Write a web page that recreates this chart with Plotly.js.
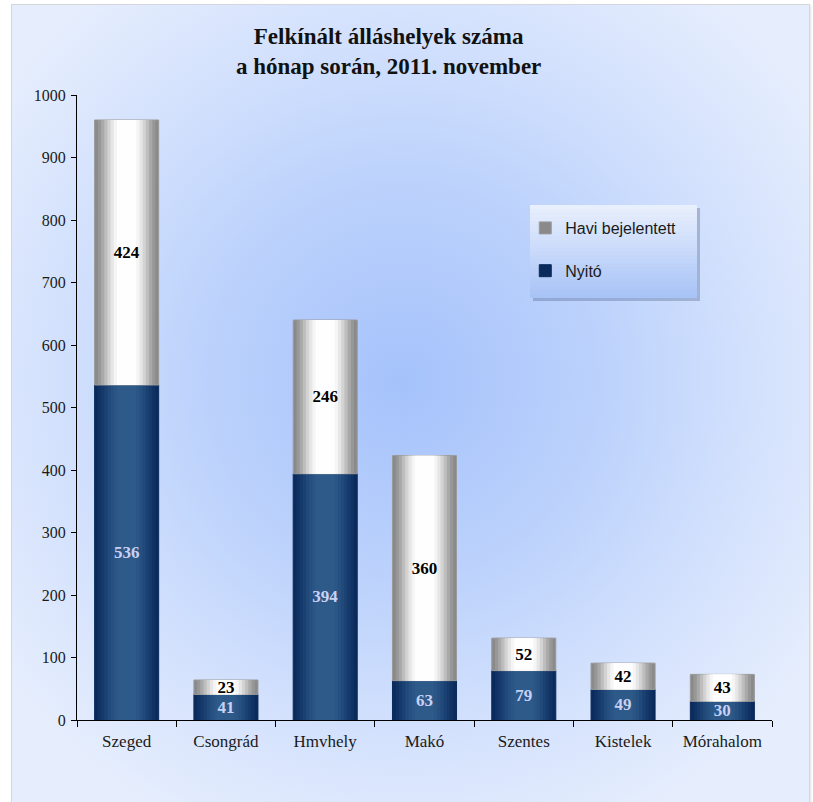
<!DOCTYPE html>
<html>
<head>
<meta charset="utf-8">
<script src="https://cdn.plot.ly/plotly-3.0.1.min.js"></script>
<style>
  html, body { margin: 0; padding: 0; background: #ffffff; }
  #wrap { position: relative; width: 813px; height: 802px; overflow: hidden; }
  #bg { position: absolute; left: 11px; top: 4px; width: 797px; height: 800px;
        border: 1px solid #d4d8de;
        box-shadow: 1px 1px 2px rgba(0,0,0,0.12);
        background: radial-gradient(ellipse 62% 62% at 49% 47%, #a5c2fb 0%, #bcd2fc 40%, #d6e3fd 75%, #e6eefd 100%); }
  #chart { position: absolute; left: 0; top: 0; width: 813px; height: 802px; }
</style>
</head>
<body>
<div id="wrap">
  <div id="bg"></div>
  <div id="chart"></div>
</div>
<script>
// ---- data ----
const categories = ['Szeged', 'Csongrád', 'Hmvhely', 'Makó', 'Szentes', 'Kistelek', 'Mórahalom'];
const nyito = [536, 41, 394, 63, 79, 49, 30];
const havi = [424, 23, 246, 360, 52, 42, 43];
const seriesNames = ['Nyitó', 'Havi bejelentett'];
const yTicks = [0, 100, 200, 300, 400, 500, 600, 700, 800, 900, 1000];

// ---- styling ----
const BAR_W = 0.645;
const navyStops = [[1.00, '#0a2b5c'], [0.90, '#0f3263'], [0.80, '#15396b'], [0.70, '#1b4173'], [0.60, '#21497a'], [0.50, '#265080'], [0.40, '#2a5585'], [0.30, '#2e5a89']];
const grayStops = [[1.00, '#8a8a8a'], [0.90, '#979797'], [0.80, '#a9a9a9'], [0.70, '#bebebe'], [0.60, '#d3d3d3'], [0.50, '#e6e6e6'], [0.40, '#f5f5f5'], [0.30, '#fefefe']];

const zeros = categories.map(function () { return 0; });
const havibase = nyito.slice();
const traces = [];

function addLayers(values, base, stops, name, rank, lineColor) {
  stops.forEach(function (s, i) {
    traces.push({
      type: 'bar',
      x: categories,
      y: values,
      base: base,
      width: BAR_W * s[0],
      name: name,
      legendgroup: name,
      legendrank: rank,
      showlegend: i === 0,
      marker: {
        color: s[1],
        line: { width: i === 0 ? 1 : 0, color: lineColor }
      },
      hoverinfo: 'skip'
    });
  });
}

addLayers(nyito, zeros, navyStops, seriesNames[0], 2, '#0a2b5c');
addLayers(havi, havibase, grayStops, seriesNames[1], 1, '#9a9a9a');

// text label traces (transparent)
function addLabels(values, base, color) {
  traces.push({
    type: 'bar',
    x: categories,
    y: values,
    base: base,
    width: BAR_W,
    showlegend: false,
    marker: { color: 'rgba(0,0,0,0)', line: { width: 0 } },
    text: values.map(String),
    textposition: 'inside',
    insidetextanchor: 'middle',
    textangle: 0,
    constraintext: 'none',
    textfont: { family: 'Liberation Serif, Times New Roman, serif', size: 17, color: color, weight: 'bold' },
    hoverinfo: 'skip'
  });
}
addLabels(nyito, zeros, '#c8d1f4');
addLabels(havi, havibase, '#000000');

// legend box (shadow + vertical gradient strips)
const shapes = [{
  type: 'rect', xref: 'paper', yref: 'paper', layer: 'above',
  x0: 0.6561, x1: 0.8964, y0: 0.6704, y1: 0.8192,
  fillcolor: 'rgba(50,70,110,0.28)', line: { width: 0 }
}];
const boxTop = 0.824, boxBot = 0.6752, boxL = 0.6518, boxR = 0.8921;
const topC = [232, 239, 253], botC = [168, 195, 246];
const nStrips = 24;
for (let i = 0; i < nStrips; i++) {
  const t = i / (nStrips - 1);
  const c = topC.map(function (v, k) { return Math.round(v + (botC[k] - v) * t); });
  const h = (boxTop - boxBot) / nStrips;
  shapes.push({
    type: 'rect', xref: 'paper', yref: 'paper', layer: 'above',
    x0: boxL, x1: boxR,
    y0: Math.max(boxBot, boxTop - (i + 1) * h - 0.002), y1: boxTop - i * h,
    fillcolor: 'rgb(' + c.join(',') + ')', line: { width: 0 }
  });
}

const layout = {
  width: 813,
  height: 802,
  paper_bgcolor: 'rgba(0,0,0,0)',
  plot_bgcolor: 'rgba(0,0,0,0)',
  barmode: 'overlay',
  margin: { l: 77, r: 41, t: 95, b: 82 },
  uniformtext: { mode: 'show', minsize: 17 },
  title: {
    text: '<b>Felkínált álláshelyek száma<br>a hónap során, 2011. november</b>',
    font: { family: 'Liberation Serif, Times New Roman, serif', size: 23, color: '#111111' },
    xref: 'container', x: 0.478, xanchor: 'center',
    yref: 'container', y: 0.945, yanchor: 'top'
  },
  xaxis: {
    type: 'category',
    showline: true, linecolor: '#000000', linewidth: 1,
    ticks: 'outside', ticklen: 6, tickcolor: '#000000', tickson: 'boundaries',
    ticklabelstandoff: 6,
    tickfont: { family: 'Liberation Serif, Times New Roman, serif', size: 17, color: '#1a1a1a' },
    showgrid: false, zeroline: false,
    fixedrange: true
  },
  yaxis: {
    range: [0, 1000],
    tickvals: yTicks,
    ticktext: yTicks.map(String),
    showline: true, linecolor: '#000000', linewidth: 1,
    ticks: 'outside', ticklen: 5, tickcolor: '#000000',
    ticklabelstandoff: 2,
    tickfont: { family: 'Liberation Serif, Times New Roman, serif', size: 16, color: '#1a1a1a' },
    showgrid: false, zeroline: false,
    fixedrange: true
  },
  legend: {
    x: 0.645, xanchor: 'left',
    y: 0.8144, yanchor: 'top',
    bgcolor: 'rgba(0,0,0,0)',
    borderwidth: 0,
    traceorder: 'grouped',
    tracegroupgap: 19,
    font: { family: 'Liberation Sans, Arial, sans-serif', size: 16, color: '#1a1a1a' },
    itemwidth: 30
  },
  shapes: shapes,
  showlegend: true
};

Plotly.newPlot('chart', traces, layout, { displayModeBar: false, staticPlot: true });
</script>
</body>
</html>
